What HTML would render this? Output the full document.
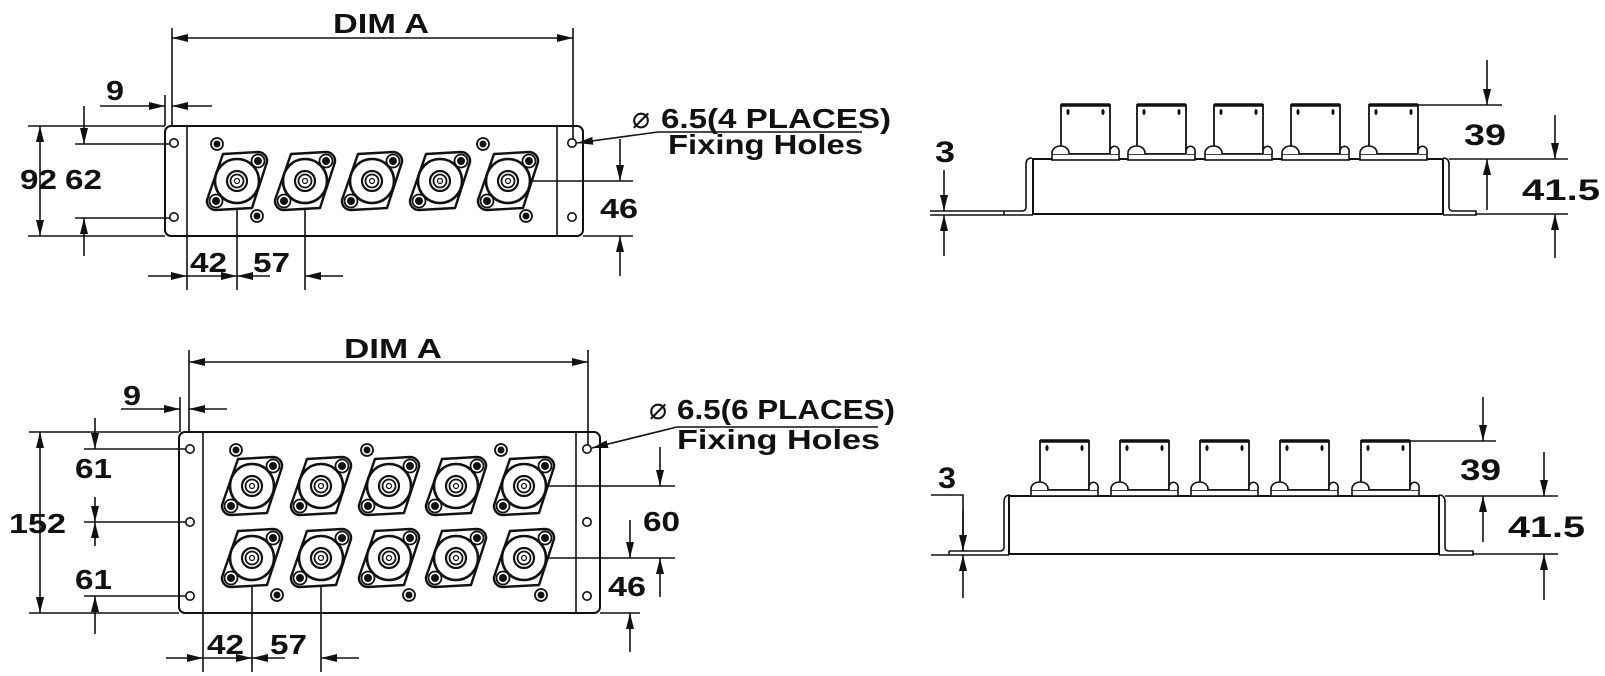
<!DOCTYPE html>
<html><head><meta charset="utf-8"><style>
html,body{margin:0;padding:0;background:#fff;}
svg{display:block;}
text{font-family:"Liberation Sans",Arial,sans-serif;font-weight:bold;fill:#111;}
</style></head><body>
<svg width="1605" height="676" viewBox="0 0 1605 676" xmlns="http://www.w3.org/2000/svg">
<defs>
<marker id="ar" markerWidth="17" markerHeight="10" refX="16" refY="5" orient="auto-start-reverse" markerUnits="userSpaceOnUse">
<path d="M0,1 L16,5 L0,9 Z" fill="#111"/>
</marker>
<g id="conn">
<path d="M -14,-27 L 21,-29 A 9 9 0 0 1 30,-19 L 15,27 L -21,29 A 9 9 0 0 1 -30,19 Z" fill="#fff" stroke="#111" stroke-width="2.4" stroke-linejoin="round"/>
<circle r="22" fill="none" stroke="#111" stroke-width="2.6"/>
<circle r="10" fill="none" stroke="#111" stroke-width="2.2"/>
<circle r="6.5" fill="none" stroke="#111" stroke-width="1.8"/>
<circle r="2.5" fill="none" stroke="#111" stroke-width="1.2"/>
<circle cx="21" cy="-20" r="6.5" fill="#fff" stroke="#111" stroke-width="1.8"/>
<circle cx="21" cy="-20" r="4" fill="#111"/>
<circle cx="-21" cy="20" r="6.5" fill="#fff" stroke="#111" stroke-width="1.8"/>
<circle cx="-21" cy="20" r="4" fill="#111"/>
</g>
<g id="sh">
<circle r="6" fill="#fff" stroke="#111" stroke-width="1.8"/>
<circle r="3.5" fill="#111"/>
</g>
<g id="fh"><circle r="4.2" fill="#fff" stroke="#111" stroke-width="1.6"/></g>
<g id="sc">
<rect x="0" y="0" width="49" height="49" fill="#fff" stroke="#111" stroke-width="1.8"/>
<line x1="0" y1="0" x2="49" y2="0" stroke="#111" stroke-width="3.5"/>
<ellipse cx="7" cy="7" rx="1.6" ry="3" fill="#111"/>
<ellipse cx="42" cy="7" rx="1.6" ry="3" fill="#111"/>
<rect x="-9" y="49" width="67" height="6" fill="#fff" stroke="#111" stroke-width="1.6"/>
<path d="M -9,49 L -9,48 A 8.5 7 0 0 1 8,48 L 8,49" fill="#fff" stroke="#111" stroke-width="1.6"/>
<path d="M 49,49 L 49,45 A 4.5 5 0 0 1 58,48 L 58,49" fill="#fff" stroke="#111" stroke-width="1.6"/>
</g>
</defs>

<g stroke="#111" fill="none" stroke-width="1.6">
<rect x="165" y="126" width="418" height="110" rx="6" stroke-width="2"/>
<line x1="187" y1="126" x2="187" y2="236"/>
<line x1="557" y1="126" x2="557" y2="236"/>
<line x1="172" y1="28" x2="172" y2="126"/>
<line x1="573" y1="28" x2="573" y2="140"/>
<line x1="172" y1="38" x2="573" y2="38" marker-start="url(#ar)" marker-end="url(#ar)"/>
<line x1="165" y1="95" x2="165" y2="126"/>
<line x1="100" y1="106" x2="165" y2="106" marker-end="url(#ar)"/>
<line x1="212" y1="106" x2="172" y2="106" marker-end="url(#ar)"/>
<line x1="28" y1="126" x2="165" y2="126"/>
<line x1="28" y1="236" x2="165" y2="236"/>
<line x1="40" y1="126" x2="40" y2="236" marker-start="url(#ar)" marker-end="url(#ar)"/>
<line x1="75" y1="144" x2="170" y2="144"/>
<line x1="75" y1="218" x2="170" y2="218"/>
<line x1="84" y1="106" x2="84" y2="144" marker-end="url(#ar)"/>
<line x1="84" y1="256" x2="84" y2="218" marker-end="url(#ar)"/>
<line x1="508" y1="181" x2="633" y2="181"/>
<line x1="583" y1="236" x2="633" y2="236"/>
<line x1="620" y1="139" x2="620" y2="181" marker-end="url(#ar)"/>
<line x1="620" y1="276" x2="620" y2="236" marker-end="url(#ar)"/>
<line x1="187" y1="236" x2="187" y2="290"/>
<line x1="237" y1="181" x2="237" y2="290"/>
<line x1="305" y1="181" x2="305" y2="290"/>
<line x1="148" y1="276" x2="187" y2="276" marker-end="url(#ar)"/>
<line x1="187" y1="276" x2="237" y2="276" marker-end="url(#ar)"/>
<line x1="270" y1="276" x2="237" y2="276" marker-end="url(#ar)"/>
<line x1="343" y1="276" x2="305" y2="276" marker-end="url(#ar)"/>
<line x1="658" y1="132" x2="577" y2="143" marker-end="url(#ar)"/>
<line x1="658" y1="132" x2="862" y2="132"/>

<rect x="179" y="432" width="421" height="181" rx="6" stroke-width="2"/>
<line x1="203" y1="432" x2="203" y2="613"/>
<line x1="576" y1="432" x2="576" y2="613"/>
<line x1="189" y1="350" x2="189" y2="432"/>
<line x1="588" y1="350" x2="588" y2="445"/>
<line x1="189" y1="362" x2="588" y2="362" marker-start="url(#ar)" marker-end="url(#ar)"/>
<line x1="180" y1="397" x2="180" y2="432"/>
<line x1="121" y1="409" x2="180" y2="409" marker-end="url(#ar)"/>
<line x1="227" y1="409" x2="189" y2="409" marker-end="url(#ar)"/>
<line x1="29" y1="432" x2="179" y2="432"/>
<line x1="29" y1="613" x2="179" y2="613"/>
<line x1="40" y1="432" x2="40" y2="613" marker-start="url(#ar)" marker-end="url(#ar)"/>
<line x1="84" y1="449" x2="186" y2="449"/>
<line x1="84" y1="522" x2="186" y2="522"/>
<line x1="84" y1="596" x2="186" y2="596"/>
<line x1="95" y1="418" x2="95" y2="449" marker-end="url(#ar)"/>
<line x1="95" y1="497" x2="95" y2="522" marker-end="url(#ar)"/>
<line x1="95" y1="546" x2="95" y2="522" marker-end="url(#ar)"/>
<line x1="95" y1="634" x2="95" y2="596" marker-end="url(#ar)"/>
<line x1="524" y1="486" x2="675" y2="486"/>
<line x1="524" y1="558" x2="675" y2="558"/>
<line x1="600" y1="613" x2="640" y2="613"/>
<line x1="660" y1="447" x2="660" y2="486" marker-end="url(#ar)"/>
<line x1="630" y1="520" x2="630" y2="558" marker-end="url(#ar)"/>
<line x1="660" y1="597" x2="660" y2="558" marker-end="url(#ar)"/>
<line x1="630" y1="652" x2="630" y2="613" marker-end="url(#ar)"/>
<line x1="203" y1="613" x2="203" y2="672"/>
<line x1="252" y1="558" x2="252" y2="672"/>
<line x1="321" y1="558" x2="321" y2="672"/>
<line x1="166" y1="658" x2="203" y2="658" marker-end="url(#ar)"/>
<line x1="203" y1="658" x2="252" y2="658" marker-end="url(#ar)"/>
<line x1="285" y1="658" x2="252" y2="658" marker-end="url(#ar)"/>
<line x1="359" y1="658" x2="321" y2="658" marker-end="url(#ar)"/>
<line x1="677" y1="427" x2="592" y2="448" marker-end="url(#ar)"/>
<line x1="677" y1="427" x2="878" y2="427"/>

<rect x="1033" y="159" width="410" height="55" stroke-width="2"/>
<path d="M930,211 L1022,211 Q1026,211 1026,207 L1026,164 Q1026,158 1032,158"/>
<line x1="930" y1="215" x2="1033" y2="215"/>
<line x1="1004" y1="211" x2="1004" y2="215"/>
<path d="M1443,158 Q1449,158 1449,164 L1449,207 Q1449,211 1453,211 L1476,211 L1476,215 L1443,215"/>
<line x1="1417" y1="105" x2="1502" y2="105"/>
<line x1="1487" y1="60" x2="1487" y2="105" marker-end="url(#ar)"/>
<line x1="1449" y1="159" x2="1568" y2="159"/>
<line x1="1476" y1="214" x2="1568" y2="214"/>
<line x1="1487" y1="210" x2="1487" y2="159" marker-end="url(#ar)"/>
<line x1="1555" y1="115" x2="1555" y2="159" marker-end="url(#ar)"/>
<line x1="1555" y1="258" x2="1555" y2="214" marker-end="url(#ar)"/>
<line x1="944" y1="170" x2="944" y2="211" marker-end="url(#ar)"/>
<line x1="944" y1="256" x2="944" y2="215" marker-end="url(#ar)"/>

<rect x="1009" y="496" width="430" height="58" stroke-width="2"/>
<path d="M949,551 L1000,551 Q1004,551 1004,547 L1004,502 Q1004,495 1010,495"/>
<line x1="931" y1="555" x2="1009" y2="555"/>
<line x1="949" y1="551" x2="949" y2="555"/>
<path d="M1439,495 Q1445,495 1445,502 L1445,547 Q1445,551 1449,551 L1473,551 L1473,555 L1439,555"/>
<line x1="1410" y1="441" x2="1496" y2="441"/>
<line x1="1483" y1="397" x2="1483" y2="441" marker-end="url(#ar)"/>
<line x1="1445" y1="496" x2="1558" y2="496"/>
<line x1="1473" y1="554" x2="1558" y2="554"/>
<line x1="1483" y1="542" x2="1483" y2="496" marker-end="url(#ar)"/>
<line x1="1544" y1="452" x2="1544" y2="496" marker-end="url(#ar)"/>
<line x1="1544" y1="600" x2="1544" y2="554" marker-end="url(#ar)"/>
<polyline points="931,495 963,495 963,551"/>
<line x1="963" y1="511" x2="963" y2="551" marker-end="url(#ar)"/>
<line x1="963" y1="598" x2="963" y2="555" marker-end="url(#ar)"/>
</g>

<use href="#fh" x="174" y="143"/><use href="#fh" x="174" y="217"/>
<use href="#fh" x="572" y="143"/><use href="#fh" x="572" y="217"/>
<use href="#sh" x="217" y="144"/><use href="#sh" x="257" y="216"/>
<use href="#sh" x="483" y="144"/><use href="#sh" x="526" y="216"/>
<use href="#conn" x="237" y="181"/><use href="#conn" x="305" y="181"/>
<use href="#conn" x="372" y="181"/><use href="#conn" x="440" y="181"/>
<use href="#conn" x="508" y="181"/>

<use href="#fh" x="190" y="449"/><use href="#fh" x="190" y="522"/><use href="#fh" x="190" y="596"/>
<use href="#fh" x="587" y="449"/><use href="#fh" x="587" y="522"/><use href="#fh" x="587" y="596"/>
<use href="#sh" x="236" y="450"/><use href="#sh" x="367" y="450"/><use href="#sh" x="501" y="450"/>
<use href="#sh" x="277" y="595"/><use href="#sh" x="409" y="595"/><use href="#sh" x="541" y="595"/>
<use href="#conn" x="252" y="486"/><use href="#conn" x="321" y="486"/><use href="#conn" x="389" y="486"/>
<use href="#conn" x="456" y="486"/><use href="#conn" x="524" y="486"/>
<use href="#conn" x="252" y="558"/><use href="#conn" x="321" y="558"/><use href="#conn" x="389" y="558"/>
<use href="#conn" x="456" y="558"/><use href="#conn" x="524" y="558"/>

<use href="#sc" x="1061" y="105"/><use href="#sc" x="1137" y="105"/><use href="#sc" x="1214" y="105"/>
<use href="#sc" x="1291" y="105"/><use href="#sc" x="1369" y="105"/>
<use href="#sc" x="1040" y="441"/><use href="#sc" x="1120" y="441"/><use href="#sc" x="1200" y="441"/>
<use href="#sc" x="1280" y="441"/><use href="#sc" x="1361" y="441"/>

<g font-size="28">
<text x="333" y="33" textLength="96" lengthAdjust="spacingAndGlyphs">DIM A</text>
<text x="106" y="100" textLength="18" lengthAdjust="spacingAndGlyphs">9</text>
<text x="20" y="189" textLength="37" lengthAdjust="spacingAndGlyphs">92</text>
<text x="65" y="189" textLength="37" lengthAdjust="spacingAndGlyphs">62</text>
<text x="600" y="218" textLength="38" lengthAdjust="spacingAndGlyphs">46</text>
<text x="190" y="272" textLength="37" lengthAdjust="spacingAndGlyphs">42</text>
<text x="253" y="272" textLength="37" lengthAdjust="spacingAndGlyphs">57</text>
<text x="661" y="128" textLength="230" lengthAdjust="spacingAndGlyphs">6.5(4 PLACES)</text>
<text x="668" y="154" textLength="195" lengthAdjust="spacingAndGlyphs">Fixing Holes</text>

<text x="344" y="358" textLength="98" lengthAdjust="spacingAndGlyphs">DIM A</text>
<text x="123" y="405" textLength="18" lengthAdjust="spacingAndGlyphs">9</text>
<text x="9" y="533" textLength="57" lengthAdjust="spacingAndGlyphs">152</text>
<text x="75" y="478" textLength="37" lengthAdjust="spacingAndGlyphs">61</text>
<text x="75" y="589" textLength="37" lengthAdjust="spacingAndGlyphs">61</text>
<text x="643" y="531" textLength="37" lengthAdjust="spacingAndGlyphs">60</text>
<text x="608" y="596" textLength="38" lengthAdjust="spacingAndGlyphs">46</text>
<text x="207" y="654" textLength="37" lengthAdjust="spacingAndGlyphs">42</text>
<text x="270" y="654" textLength="37" lengthAdjust="spacingAndGlyphs">57</text>
<text x="677" y="419" textLength="218" lengthAdjust="spacingAndGlyphs">6.5(6 PLACES)</text>
<text x="677" y="449" textLength="203" lengthAdjust="spacingAndGlyphs">Fixing Holes</text>
</g>
<text x="632" y="128" font-size="30" style="font-weight:normal">⌀</text>
<text x="649" y="419" font-size="30" style="font-weight:normal">⌀</text>
<g font-size="30">
<text x="935" y="162" textLength="20" lengthAdjust="spacingAndGlyphs">3</text>
<text x="1464" y="145" textLength="42" lengthAdjust="spacingAndGlyphs">39</text>
<text x="1522" y="200" textLength="78" lengthAdjust="spacingAndGlyphs">41.5</text>
<text x="938" y="488" textLength="18" lengthAdjust="spacingAndGlyphs">3</text>
<text x="1460" y="480" textLength="41" lengthAdjust="spacingAndGlyphs">39</text>
<text x="1508" y="537" textLength="77" lengthAdjust="spacingAndGlyphs">41.5</text>
</g>
</svg>
</body></html>
